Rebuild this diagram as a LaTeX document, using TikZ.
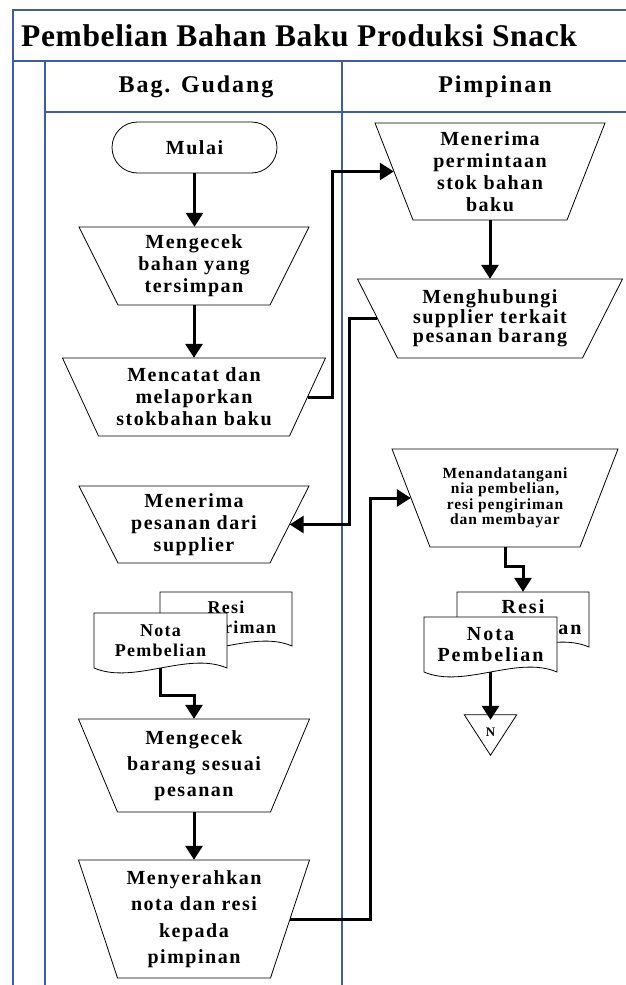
\documentclass[tikz,border=0pt]{standalone}
\usepackage{fontspec}
\setmainfont{Liberation Serif}
\newfontfamily\ttlfont[LetterSpace=2]{Liberation Serif Bold}
\newfontfamily\hdrfont[LetterSpace=8]{Liberation Serif Bold}
\newfontfamily\boxfont[LetterSpace=7.5]{Liberation Serif Bold}
\newfontfamily\smallboxfont[LetterSpace=6]{Liberation Serif Bold}
\newfontfamily\docfont[LetterSpace=7]{Liberation Serif Bold}
\newfontfamily\docfontb[LetterSpace=10]{Liberation Serif Bold}
\usetikzlibrary{arrows.meta}

\definecolor{lanecol}{RGB}{64,94,158}

\tikzset{
  laneline/.style={draw=lanecol, line width=1.8pt},
  shapeline/.style={draw=black, line width=0.8pt},
  flow/.style={line width=3pt, -{Triangle[length=14pt,width=17pt]}},
  ttl/.style={font=\ttlfont\fontsize{31.5}{34}\selectfont, inner sep=0pt},
  hdr/.style={font=\hdrfont\fontsize{24}{26}\selectfont, inner sep=0pt},
  txt/.style={font=\boxfont\fontsize{20}{22}\selectfont, align=center, inner sep=0pt},
}

% manual input step: name, centre x, centre y, top width, height, inset of bottom corners, text, extra node options
\newcommand\maninput[8]{%
  \draw[shapeline, fill=white] ({#2-#4/2},{#3-#5/2}) -- ({#2+#4/2},{#3-#5/2})
    -- ({#2+#4/2-#6},{#3+#5/2}) -- ({#2-#4/2+#6},{#3+#5/2}) -- cycle;
  \node[txt, minimum width=#4pt, minimum height=#5pt, #8] (#1) at (#2,#3) {#7};
}

% paper document: name, left x, top y, width, height, text, font
\newcommand\paperdoc[7]{%
  \draw[shapeline, fill=white] (#2,#3) -- ({#2+#4},#3) -- ({#2+#4},{#3+#5})
    .. controls ({#2+0.7*#4},{#3+#5-17}) and ({#2+0.3*#4},{#3+#5+17}) .. (#2,{#3+#5}) -- cycle;
  \node[align=center, inner sep=0pt, minimum width=#4pt, minimum height=#5pt, font=#7]
    (#1) at ({#2+#4/2},{#3+#5/2}) {#6};
}

\begin{document}
\begin{tikzpicture}[x=1pt, y=-1pt]
\useasboundingbox (0,0) rectangle (625,985);

% swimlane frame
\draw[laneline] (13,985) -- (13,10) -- (627,10);
\draw[laneline] (13,61) -- (627,61);
\draw[laneline] (45,985) -- (45,61);
\draw[laneline] (45,112) -- (627,112);
\draw[laneline] (342,61) -- (342,985);

\node[ttl, anchor=west] (title) at (21,35.5) {Pembelian Bahan Baku Produksi Snack};
\node[hdr] (gudang) at (196,86.5) {Bag. Gudang};
\node[hdr] (pimpinan) at (495,86.5) {Pimpinan};

% Bag. Gudang lane
\node[txt, draw, line width=0.8pt, rounded corners=25.5pt, minimum width=165pt, minimum height=51pt]
  (mulai) at (194.5,147.5) {Mulai};
\maninput{cek1}{194}{266}{230}{78}{39}{Mengecek\\bahan yang\\tersimpan}{}
\maninput{catat}{194}{397}{263}{78}{36}{Mencatat dan\\melaporkan\\stokbahan baku}{}
\maninput{pesan}{194}{524.5}{230}{77}{39}{Menerima\\pesanan dari\\supplier}{}
\paperdoc{resi1}{160}{592}{132}{54}{Resi\\pengiriman}{\docfont\fontsize{18}{20}\selectfont}
\paperdoc{nota1}{94}{613}{133}{55}{Nota\\Pembelian}{\docfont\fontsize{18}{19.5}\selectfont}
\maninput{cek2}{194}{765.5}{231}{93}{39}{Mengecek\\barang sesuai\\pesanan}{font=\boxfont\fontsize{20}{26}\selectfont}
\maninput{serah}{194}{919}{231}{118}{39}{Menyerahkan\\nota dan resi\\kepada\\pimpinan}{font=\boxfont\fontsize{20}{26.5}\selectfont}

% Pimpinan lane
\maninput{terima}{490}{171.5}{230}{97}{38}{Menerima\\permintaan\\stok bahan\\baku}{}
\maninput{hubungi}{490}{318.5}{265}{79}{40}{Menghubungi\\supplier terkait\\pesanan barang}{font=\boxfont\fontsize{20}{19.5}\selectfont}
\maninput{ttd}{505}{498}{226}{98}{38}{Menandatangani\\nia pembelian,\\resi pengiriman\\dan membayar}{font=\smallboxfont\fontsize{15.5}{15.5}\selectfont}
\paperdoc{resi2}{457}{592}{132}{55}{Resi\\pengiriman}{\docfontb\fontsize{20}{21}\selectfont}
\paperdoc{nota2}{424}{617}{133}{55}{Nota\\Pembelian}{\docfontb\fontsize{20}{20.5}\selectfont}
\node[inner sep=0pt, minimum width=52pt, minimum height=40pt, font=\boxfont\fontsize{13}{13}\selectfont]
  (offpage) at (490.5,735) {\raisebox{5pt}{N}};
\draw[shapeline] (offpage.north west) -- (offpage.north east) -- (offpage.south) -- cycle;

% flow within the lanes
\draw[flow] (mulai.south) -- (mulai.south |- cek1.north);
\draw[flow] (cek1.south) -- (catat.north);
\draw[flow] (nota1.south) -- ++(0,27) -| (cek2.north);
\draw[flow] (cek2.south) -- (serah.north);
\draw[flow] (terima.south) -- (terima.south |- hubungi.north);
\draw[flow] (ttd.south) -- ++(0,19) -| (resi2.north);
\draw[flow] (nota2.south) -- ([yshift=-5pt]offpage.north);

% flow between the lanes
\draw[flow] ([xshift=-18pt]catat.east) -- ++(25,0) |- ([xshift=19pt]terima.west);
\draw[flow] ([xshift=20pt]hubungi.west) -- ++(-28,0) |- ([xshift=-19.5pt]pesan.east);
\draw[flow] ([xshift=-19.5pt]serah.east) -- ++(80,0) |- ([xshift=19pt]ttd.west);
\end{tikzpicture}
\end{document}
